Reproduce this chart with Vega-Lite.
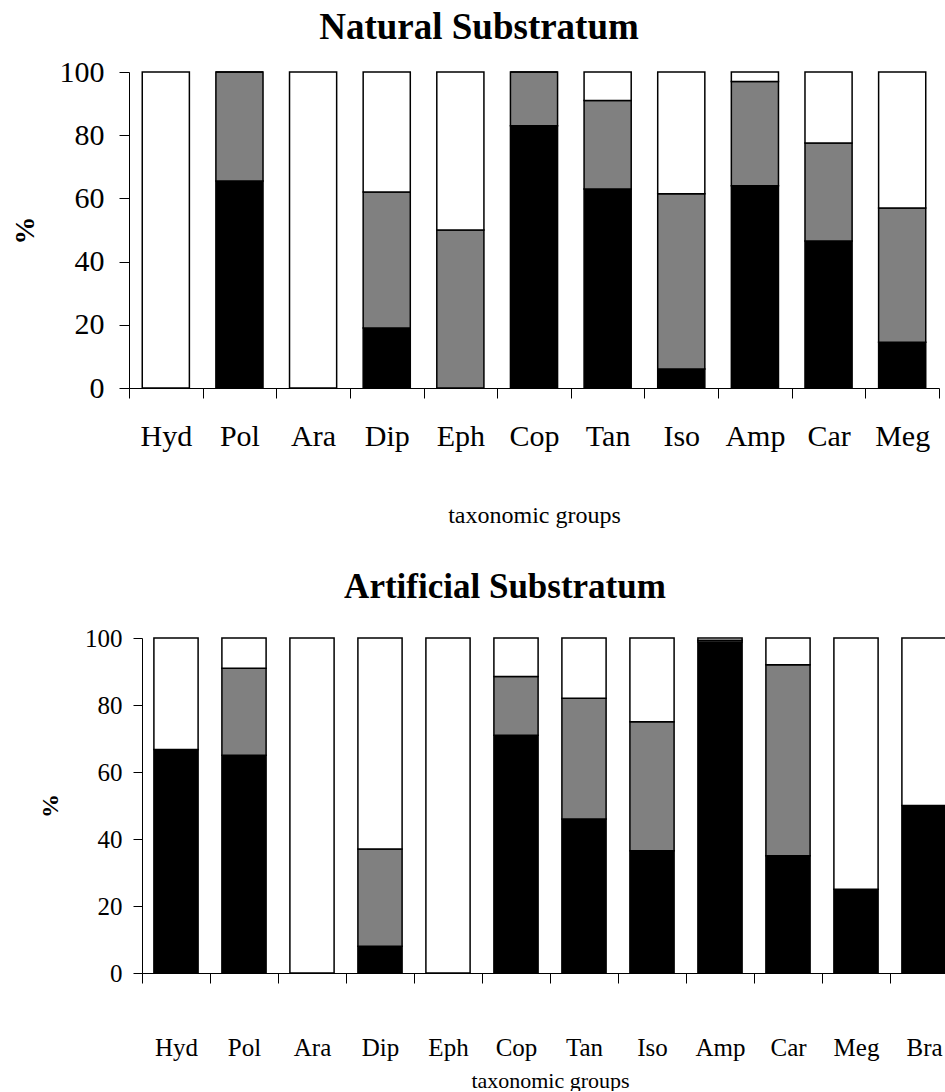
{
  "$schema": "https://vega.github.io/schema/vega-lite/v6.json",
  "padding": {"left": 0, "top": 9, "right": 0, "bottom": 0},
  "background": "white",
  "config": {
    "font": "Liberation Serif",
    "view": {"stroke": null},
    "axis": {"grid": false, "domainColor": "#000", "tickColor": "#000", "labelColor": "#000", "titleColor": "#000", "domainWidth": 1, "tickWidth": 1},
    "title": {"font": "Liberation Serif", "fontWeight": "bold", "color": "#000", "baseline": "alphabetic"}
  },
  "datasets": {
    "natural": [
      {"cat": "Hyd", "seg": "k", "ord": 1, "value": 0},
      {"cat": "Hyd", "seg": "g", "ord": 2, "value": 0},
      {"cat": "Hyd", "seg": "w", "ord": 3, "value": 100},
      {"cat": "Pol", "seg": "k", "ord": 1, "value": 65.5},
      {"cat": "Pol", "seg": "g", "ord": 2, "value": 34.5},
      {"cat": "Pol", "seg": "w", "ord": 3, "value": 0},
      {"cat": "Ara", "seg": "k", "ord": 1, "value": 0},
      {"cat": "Ara", "seg": "g", "ord": 2, "value": 0},
      {"cat": "Ara", "seg": "w", "ord": 3, "value": 100},
      {"cat": "Dip", "seg": "k", "ord": 1, "value": 19},
      {"cat": "Dip", "seg": "g", "ord": 2, "value": 43},
      {"cat": "Dip", "seg": "w", "ord": 3, "value": 38},
      {"cat": "Eph", "seg": "k", "ord": 1, "value": 0},
      {"cat": "Eph", "seg": "g", "ord": 2, "value": 50},
      {"cat": "Eph", "seg": "w", "ord": 3, "value": 50},
      {"cat": "Cop", "seg": "k", "ord": 1, "value": 83},
      {"cat": "Cop", "seg": "g", "ord": 2, "value": 17},
      {"cat": "Cop", "seg": "w", "ord": 3, "value": 0},
      {"cat": "Tan", "seg": "k", "ord": 1, "value": 63},
      {"cat": "Tan", "seg": "g", "ord": 2, "value": 28},
      {"cat": "Tan", "seg": "w", "ord": 3, "value": 9},
      {"cat": "Iso", "seg": "k", "ord": 1, "value": 6},
      {"cat": "Iso", "seg": "g", "ord": 2, "value": 55.5},
      {"cat": "Iso", "seg": "w", "ord": 3, "value": 38.5},
      {"cat": "Amp", "seg": "k", "ord": 1, "value": 64},
      {"cat": "Amp", "seg": "g", "ord": 2, "value": 33},
      {"cat": "Amp", "seg": "w", "ord": 3, "value": 3},
      {"cat": "Car", "seg": "k", "ord": 1, "value": 46.5},
      {"cat": "Car", "seg": "g", "ord": 2, "value": 31},
      {"cat": "Car", "seg": "w", "ord": 3, "value": 22.5},
      {"cat": "Meg", "seg": "k", "ord": 1, "value": 14.5},
      {"cat": "Meg", "seg": "g", "ord": 2, "value": 42.5},
      {"cat": "Meg", "seg": "w", "ord": 3, "value": 43}
    ],
    "artificial": [
      {"cat": "Hyd", "seg": "k", "ord": 1, "value": 66.7},
      {"cat": "Hyd", "seg": "g", "ord": 2, "value": 0},
      {"cat": "Hyd", "seg": "w", "ord": 3, "value": 33.3},
      {"cat": "Pol", "seg": "k", "ord": 1, "value": 65},
      {"cat": "Pol", "seg": "g", "ord": 2, "value": 26},
      {"cat": "Pol", "seg": "w", "ord": 3, "value": 9},
      {"cat": "Ara", "seg": "k", "ord": 1, "value": 0},
      {"cat": "Ara", "seg": "g", "ord": 2, "value": 0},
      {"cat": "Ara", "seg": "w", "ord": 3, "value": 100},
      {"cat": "Dip", "seg": "k", "ord": 1, "value": 8},
      {"cat": "Dip", "seg": "g", "ord": 2, "value": 29},
      {"cat": "Dip", "seg": "w", "ord": 3, "value": 63},
      {"cat": "Eph", "seg": "k", "ord": 1, "value": 0},
      {"cat": "Eph", "seg": "g", "ord": 2, "value": 0},
      {"cat": "Eph", "seg": "w", "ord": 3, "value": 100},
      {"cat": "Cop", "seg": "k", "ord": 1, "value": 71},
      {"cat": "Cop", "seg": "g", "ord": 2, "value": 17.5},
      {"cat": "Cop", "seg": "w", "ord": 3, "value": 11.5},
      {"cat": "Tan", "seg": "k", "ord": 1, "value": 46},
      {"cat": "Tan", "seg": "g", "ord": 2, "value": 36},
      {"cat": "Tan", "seg": "w", "ord": 3, "value": 18},
      {"cat": "Iso", "seg": "k", "ord": 1, "value": 36.5},
      {"cat": "Iso", "seg": "g", "ord": 2, "value": 38.5},
      {"cat": "Iso", "seg": "w", "ord": 3, "value": 25},
      {"cat": "Amp", "seg": "k", "ord": 1, "value": 98.8},
      {"cat": "Amp", "seg": "g", "ord": 2, "value": 0.5},
      {"cat": "Amp", "seg": "w", "ord": 3, "value": 0.7},
      {"cat": "Car", "seg": "k", "ord": 1, "value": 35},
      {"cat": "Car", "seg": "g", "ord": 2, "value": 57},
      {"cat": "Car", "seg": "w", "ord": 3, "value": 8},
      {"cat": "Meg", "seg": "k", "ord": 1, "value": 25},
      {"cat": "Meg", "seg": "g", "ord": 2, "value": 0},
      {"cat": "Meg", "seg": "w", "ord": 3, "value": 75},
      {"cat": "Bra", "seg": "k", "ord": 1, "value": 50},
      {"cat": "Bra", "seg": "g", "ord": 2, "value": 0},
      {"cat": "Bra", "seg": "w", "ord": 3, "value": 50}
    ]
  },
  "spacing": 43,
  "vconcat": [
    {
      "spacing": 0,
      "hconcat": [
        {
          "data": {"values": [{"cat": "x"}]},
          "width": 11,
          "height": 1,
          "mark": {"type": "text", "text": ""},
          "encoding": {}
        },
        {
          "data": {"name": "natural"},
          "title": {"text": "Natural Substratum", "fontSize": 37, "offset": 10, "dx": -55},
          "width": 810,
          "height": 316,
          "mark": {"type": "bar", "width": {"band": 0.64}, "stroke": "#000", "strokeWidth": 1.5},
          "encoding": {
            "x": {
              "field": "cat", "type": "nominal",
              "sort": ["Hyd", "Pol", "Ara", "Dip", "Eph", "Cop", "Tan", "Iso", "Amp", "Car", "Meg"],
              "scale": {"paddingInner": 0, "paddingOuter": 0},
              "axis": {"title": "taxonomic groups", "labelAngle": 0, "tickBand": "extent", "tickSize": 10, "labelPadding": 23, "labelFontSize": 30, "titleFontSize": 24, "titleFontWeight": "normal", "titlePadding": 52}
            },
            "y": {
              "field": "value", "type": "quantitative", "stack": "zero",
              "scale": {"domain": [0, 100], "nice": false},
              "axis": {"title": "%", "values": [0, 20, 40, 60, 80, 100], "tickSize": 10, "labelPadding": 15, "labelFontSize": 30, "titleFontSize": 28, "titleFontWeight": "bold", "titlePadding": 20}
            },
            "color": {
              "field": "seg", "type": "nominal",
              "scale": {"domain": ["k", "g", "w"], "range": ["#000000", "#808080", "#ffffff"]},
              "legend": null
            },
            "order": {"field": "ord", "type": "quantitative"}
          }
        }
      ]
    },
    {
      "spacing": 0,
      "hconcat": [
        {
          "data": {"values": [{"cat": "x"}]},
          "width": 38,
          "height": 1,
          "mark": {"type": "text", "text": ""},
          "encoding": {}
        },
        {
          "data": {"name": "artificial"},
          "title": {"text": "Artificial Substratum", "fontSize": 35, "offset": 21, "dx": -45},
          "width": 816,
          "height": 335,
          "mark": {"type": "bar", "width": {"band": 0.65}, "stroke": "#000", "strokeWidth": 1.5},
          "encoding": {
            "x": {
              "field": "cat", "type": "nominal",
              "sort": ["Hyd", "Pol", "Ara", "Dip", "Eph", "Cop", "Tan", "Iso", "Amp", "Car", "Meg", "Bra"],
              "scale": {"paddingInner": 0, "paddingOuter": 0},
              "axis": {"title": "taxonomic groups", "labelAngle": 0, "tickBand": "extent", "tickSize": 10, "labelPadding": 52, "labelFontSize": 25, "titleFontSize": 22, "titleFontWeight": "normal", "titlePadding": 10}
            },
            "y": {
              "field": "value", "type": "quantitative", "stack": "zero",
              "scale": {"domain": [0, 100], "nice": false},
              "axis": {"title": "%", "values": [0, 20, 40, 60, 80, 100], "tickSize": 9, "labelPadding": 11, "labelFontSize": 25, "titleFontSize": 24, "titleFontWeight": "bold", "titlePadding": 22}
            },
            "color": {
              "field": "seg", "type": "nominal",
              "scale": {"domain": ["k", "g", "w"], "range": ["#000000", "#808080", "#ffffff"]},
              "legend": null
            },
            "order": {"field": "ord", "type": "quantitative"}
          }
        }
      ]
    }
  ]
}
